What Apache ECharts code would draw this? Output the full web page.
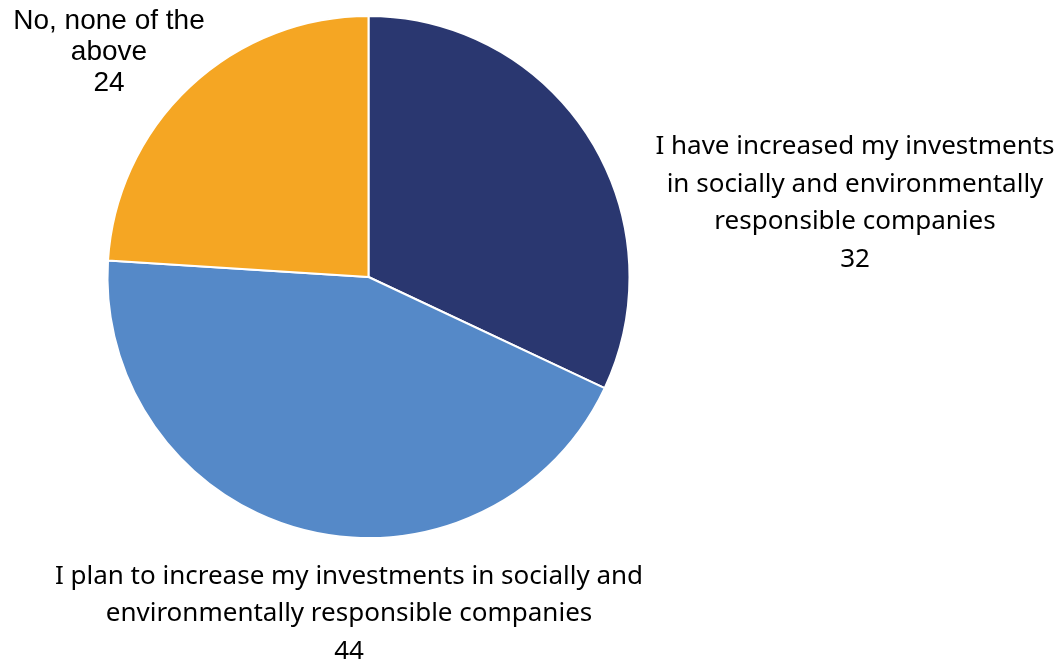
<!DOCTYPE html>
<html>
<head>
<meta charset="utf-8">
<script src="https://cdn.jsdelivr.net/npm/echarts@6/dist/echarts.min.js"></script>
<style>
  html, body { margin: 0; padding: 0; background: #ffffff; }
  #chart { width: 1059px; height: 661px; }
</style>
</head>
<body>
<div id="chart"></div>
<script>
// Survey answers, share of respondents (%)
const categories = [
  'I have increased my investments\nin socially and environmentally\nresponsible companies',
  'I plan to increase my investments in socially and\nenvironmentally responsible companies',
  'No, none of the\nabove'
];
const values = [32, 44, 24];
const colors = ['#2a3770', '#5589c8', '#f5a623'];

// Fixed label anchors (center of the text block)
const labelSpots = [
  { x: 855, y: 203, font: 'Noto Sans', size: 26, lh: 37.5 },
  { x: 349, y: 614, font: 'Noto Sans', size: 26, lh: 37.5 },
  { x: 109, y: 52, font: 'Liberation Sans', size: 28, lh: 31 }
];

const chart = echarts.init(document.getElementById('chart'), null, { renderer: 'canvas' });

chart.setOption({
  animation: false,
  series: [{
    type: 'pie',
    center: [368.5, 277],
    radius: [0, 261],
    startAngle: 90,
    clockwise: true,
    itemStyle: { borderColor: '#ffffff', borderWidth: 2 },
    labelLine: { show: false },
    data: categories.map((name, i) => ({
      name: name,
      value: values[i],
      itemStyle: { color: colors[i] },
      label: {
        show: true,
        position: 'outside',
        formatter: '{b}\n{c}',
        color: '#000000',
        fontFamily: labelSpots[i].font,
        fontSize: labelSpots[i].size,
        lineHeight: labelSpots[i].lh,
        align: 'center',
        overflow: 'none',
        width: 800
      }
    })),
    labelLayout: function (params) {
      const s = labelSpots[params.dataIndex];
      return { x: s.x, y: s.y, align: 'center', verticalAlign: 'middle' };
    }
  }]
});
</script>
</body>
</html>
